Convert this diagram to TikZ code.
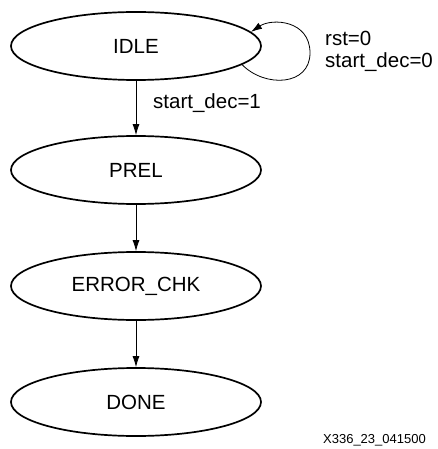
\documentclass[tikz,border=0pt]{standalone}
\usepackage{fontspec}
\setmainfont{Liberation Sans}
\usetikzlibrary{shapes.geometric,arrows.meta}
\begin{document}
\begin{tikzpicture}[x=1pt,y=-1pt,
  state/.style={ellipse,draw,line width=1.7pt,minimum width=250pt,minimum height=68pt,inner sep=0pt,font=\fontsize{20.5}{22}\selectfont},
  lbl/.style={font=\fontsize{20.5}{22}\selectfont,inner sep=0pt,align=left},
  trans/.style={line width=0.8pt,-{Latex[length=11pt,width=7pt]}},
  figcap/.style={font=\fontsize{13}{15}\selectfont,inner sep=0pt}]
\useasboundingbox (0,0) rectangle (437,449);
\node[state] (idle) at (136,46) {IDLE};
\node[state] (prel) at (136,170) {PREL};
\node[state] (err) at (136,286) {ERROR\_CHK};
\node[state] (done) at (136,402) {DONE};
\draw[trans] (idle) -- (prel);
\draw[trans] (prel) -- (err);
\draw[trans] (err) -- (done);
\draw[trans] (idle.-10) .. controls (265,88) and (310,86) .. (310,53) .. controls (310,20) and (272,18) .. (idle.7);
\node[lbl,anchor=west] (l1) at (153,103) {start\_dec=1};
\node[lbl,anchor=west] (l2) at (325,51) {rst=0\\start\_dec=0};
\node[figcap,anchor=east] (c) at (426,440) {X336\_23\_041500};
\end{tikzpicture}
\end{document}
